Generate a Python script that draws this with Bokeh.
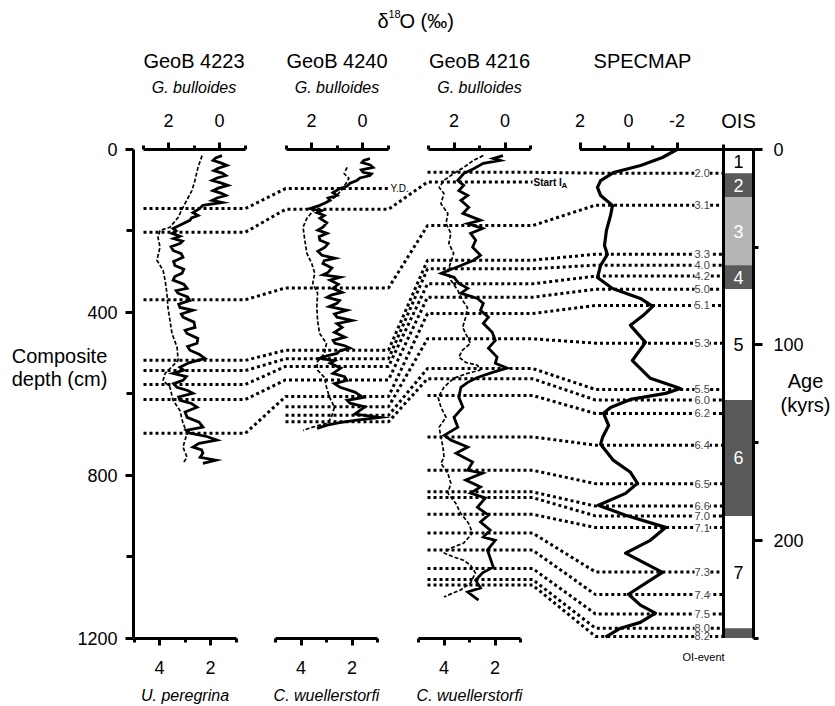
from bokeh.plotting import figure
from bokeh.models import (Range1d, LinearAxis, FixedTicker, ColumnDataSource, LabelSet,
                          PrintfTickFormatter)
from bokeh.core.properties import value
from bokeh.embed import file_html
from bokeh.resources import INLINE

# ---------------------------------------------------------------- data
# GeoB 4223: planktic (G. bulloides) and benthic (U. peregrina) d18O vs composite depth (cm)
gb4223_plank_depth = [15, 21, 27, 33, 39, 46, 52, 58, 64, 70, 76, 82, 88, 95, 101, 107, 113, 119, 125, 130,
                      137, 146, 155, 162, 168, 174, 184, 194, 200, 206, 213, 219, 225, 231, 239, 248, 256,
                      265, 275, 285, 294, 304, 312, 321, 331, 341, 347, 353, 362, 371, 380, 388, 395, 404,
                      412, 424, 437, 444, 452, 464, 476, 484, 493, 503, 513, 524, 535, 542, 550, 558, 567,
                      575, 584, 592, 599, 608, 616, 624, 633, 645, 658, 670, 682, 690, 697, 705, 714, 722,
                      731, 738, 746, 756, 763, 771]
gb4223_plank_d18o = [-0.10, 0.15, 0.25, -0.05, -0.29, 0.05, 0.22, -0.10, -0.25, 0.10, 0.29, -0.05, -0.33,
                     0.05, 0.25, -0.05, -0.25, 0.10, 0.29, -0.10, 0.65, 0.80, 1.04, 0.84, 1.10, 1.16, 1.50,
                     1.82, 1.70, 1.86, 1.55, 1.80, 1.45, 1.55, 1.90, 1.82, 1.50, 1.43, 1.80, 1.75, 1.40,
                     1.47, 1.75, 1.82, 1.40, 1.27, 1.70, 1.63, 1.25, 1.16, 1.60, 1.55, 1.04, 1.50, 1.43,
                     1.00, 0.96, 1.35, 1.27, 0.85, 0.88, 1.25, 1.16, 0.80, 0.57, 1.20, 1.55, 1.40, 1.82,
                     1.30, 1.43, 1.80, 1.67, 1.25, 1.04, 1.60, 1.55, 1.10, 0.88, 1.35, 1.27, 0.80, 0.65,
                     1.30, 1.16, 0.50, 0.10, 0.80, 1.04, 0.70, 0.65, 0.76, 0.14, 0.65]
gb4223_benth_depth = [15, 44, 76, 101, 142, 167, 191, 199, 216, 240, 272, 297, 321, 353, 388, 420, 452,
                      486, 518, 550, 567, 584, 616, 641, 672, 697, 731, 756, 771]
gb4223_benth_d18o = [2.33, 2.49, 2.61, 2.73, 3.08, 3.27, 3.59, 3.98, 4.06, 3.98, 4.10, 3.86, 3.78, 3.71,
                     3.67, 3.59, 3.51, 3.31, 3.27, 3.78, 3.86, 3.59, 3.47, 3.20, 3.08, 2.92, 3.08, 2.92, 3.08]

# GeoB 4240: planktic (G. bulloides) and benthic (C. wuellerstorfi)
gb4240_plank_depth = [22, 27, 32, 38, 44, 50, 56, 60, 64, 70, 76, 83, 90, 96, 106, 113, 119, 125, 131, 137,
                      145, 150, 155, 162, 169, 180, 191, 198, 206, 214, 223, 231, 240, 250, 260, 267, 273,
                      280, 291, 302, 308, 314, 321, 331, 341, 351, 357, 363, 371, 378, 386, 395, 404, 412,
                      420, 428, 437, 449, 461, 469, 476, 482, 488, 495, 501, 507, 513, 519, 525, 537, 550,
                      558, 567, 575, 584, 596, 609, 616, 623, 632, 641, 650, 658, 665, 671, 677, 685]
gb4240_plank_d18o = [-0.29, -0.05, 0.02, -0.30, -0.41, 0.05, -0.02, -0.35, -0.29, 0.10, 0.22, 0.49, 0.60,
                     0.88, 1.16, 1.00, 1.35, 1.27, 1.45, 1.67, 2.06, 1.60, 1.78, 1.50, 1.67, 1.40, 1.55,
                     1.75, 1.39, 1.70, 1.67, 1.35, 1.47, 1.75, 1.59, 1.08, 1.50, 1.55, 1.20, 1.35, 1.55,
                     0.88, 1.27, 0.95, 1.16, 0.80, 1.20, 1.39, 0.90, 1.00, 1.30, 0.61, 1.10, 1.00, 0.41,
                     1.00, 0.80, 1.10, 0.69, 1.15, 1.08, 0.70, 0.49, 0.90, 1.00, 1.40, 1.67, 1.10, 1.27,
                     0.85, 1.16, 0.70, 0.61, 1.10, 0.88, 0.30, -0.02, 0.60, 0.49, -0.10, 0.10, 0.30, -0.69,
                     0.22, 0.90, 1.39, 1.78]
gb4240_benth_depth = [44, 59, 71, 83, 101, 118, 130, 142, 155, 169, 191, 223, 255, 280, 304, 329, 353,
                      388, 420, 452, 476, 501, 523, 542, 560, 584, 609, 633, 658, 672, 682, 690]
gb4240_benth_d18o = [2.19, 2.31, 2.12, 2.23, 2.42, 2.69, 3.00, 3.38, 3.58, 3.77, 3.92, 3.85, 3.77, 3.58,
                     3.46, 3.54, 3.35, 3.38, 3.35, 3.27, 3.00, 3.08, 3.38, 3.35, 3.08, 3.00, 2.88, 2.69,
                     2.81, 2.96, 3.54, 3.92]

# GeoB 4216: planktic (G. bulloides) and benthic (C. wuellerstorfi)
gb4216_plank_depth = [15, 22, 27, 34, 47, 59, 76, 88, 101, 113, 125, 142, 157, 174, 182, 194, 206, 223,
                      240, 260, 272, 285, 304, 314, 329, 341, 353, 366, 378, 395, 412, 427, 449, 469, 488,
                      510, 525, 537, 547, 560, 572, 584, 609, 633, 658, 682, 702, 714, 731, 746, 768, 788,
                      795, 812, 829, 844, 856, 879, 898, 915, 935, 952, 960, 984, 1026, 1040, 1058, 1077,
                      1087, 1107]
gb4216_plank_d18o = [0.08, 0.46, 0.19, 0.85, 1.23, 1.62, 1.85, 1.62, 1.81, 1.46, 1.73, 1.42, 1.65, 0.96,
                     1.46, 0.88, 1.35, 1.15, 1.27, 0.96, 1.23, 1.73, 2.50, 2.00, 1.81, 1.46, 1.73, 1.08,
                     0.85, 0.96, 0.65, 0.85, 0.50, 0.38, 0.65, 0.31, 0.38, -0.08, 0.46, 1.08, 1.46, 1.73,
                     1.81, 1.65, 2.00, 1.85, 2.38, 2.12, 1.46, 1.92, 1.27, 1.46, 0.88, 1.54, 0.96, 1.35,
                     0.77, 1.08, 0.65, 0.96, 0.58, 0.85, 0.38, 0.69, 0.46, 0.88, 1.15, 0.96, 1.46, 1.04]
gb4216_benth_depth = [15, 27, 44, 59, 76, 93, 108, 133, 157, 182, 206, 231, 255, 277, 297, 321, 346, 371,
                      388, 412, 437, 461, 476, 493, 510, 523, 530, 542, 550, 562, 584, 609, 633, 658, 682,
                      707, 731, 756, 771, 795, 820, 844, 869, 893, 918, 942, 967, 979, 991, 1001, 1009,
                      1021, 1040, 1065, 1082, 1099]
gb4216_benth_d18o = [2.46, 2.85, 3.23, 3.62, 4.00, 4.19, 4.00, 4.12, 3.85, 3.92, 3.73, 3.81, 3.62, 3.73,
                     3.85, 3.73, 3.46, 3.27, 3.08, 3.15, 3.27, 3.08, 2.96, 3.27, 3.42, 3.15, 2.69, 2.58,
                     3.08, 3.62, 4.00, 4.23, 4.12, 3.92, 4.19, 4.12, 4.04, 4.00, 4.12, 3.85, 3.73, 3.85,
                     3.54, 3.35, 3.04, 2.88, 3.23, 3.73, 4.00, 3.62, 3.23, 2.96, 2.77, 2.96, 3.35, 4.00]

# SPECMAP stack (normalised d18O) vs age (kyr)
specmap_age = [0, 4.1, 8.2, 11.8, 15.9, 19.4, 23.5, 28.6, 33.8, 41.4, 49.1, 53.7, 59.3, 65.5, 71.1, 76.2,
               80.3, 85.0, 90.0, 98.7, 108.0, 117.1, 122.3, 124.8, 127.9, 132.0, 135.0, 141.2, 147.3,
               150.9, 159.1, 165.2, 170.8, 176.0, 182.1, 187.2, 193.4, 200.0, 206.6, 216.4, 227.6,
               233.2, 237.3, 242.0, 245.0, 249.6]
specmap_d18o = [-2.00, -1.40, -0.50, 0.62, 1.15, 1.28, 1.15, 0.66, 0.74, 0.91, 0.99, 0.87, 1.15, 1.28,
                0.66, -0.49, -1.00, -0.60, -0.08, -0.70, -0.16, -0.90, -2.14, -1.53, -0.08, 0.74, 1.03,
                0.82, 1.07, 1.15, 0.62, -0.08, -0.37, 0.12, 1.24, 0.12, -1.53, -0.90, 0.12, -1.40, 0.00,
                -0.49, -1.11, -0.49, 0.33, 0.95]

# Oxygen isotope stages
ois_stage = [1, 2, 3, 4, 5, 6, 7, 8]
ois_start_age = [0.0, 12.1, 24.3, 59.2, 71.5, 128.2, 187.5, 245.0]
ois_end_age = [12.1, 24.3, 59.2, 71.5, 128.2, 187.5, 245.0, 250.0]

# Oxygen isotope events and their ages (kyr)
oi_event = ["2.0", "3.1", "3.3", "4.0", "4.2", "5.0", "5.1", "5.3", "5.5", "6.0", "6.2", "6.4", "6.5",
            "6.6", "7.0", "7.1", "7.3", "7.4", "7.5", "8.0", "8.2"]
oi_event_age = [12.1, 28.5, 53.6, 59.2, 64.8, 71.5, 79.8, 99.1, 122.8, 128.2, 135.1, 151.3, 171.0,
                182.5, 187.5, 193.5, 216.2, 227.8, 237.7, 245.0, 249.2]

# Correlation tie points (composite depth, cm) in each core
gb4223_tie_event = ["Y.D.", "IA", "3.1", "3.3", "4.0", "4.2", "5.0", "5.1"]
gb4223_tie_depth = [145, 203, 369, 518, 543, 577, 614, 697]
gb4240_tie_event = ["Y.D.", "IA", "3.1", "3.3", "4.0", "4.2", "5.0", "5.1", "5.3", "5.5", "6.0"]
gb4240_tie_depth = [96, 147, 340, 493, 514, 533, 566, 607, 632, 653, 669]
gb4216_tie_event = ["IA"] + oi_event
gb4216_tie_depth = [80, 56, 187, 272, 293, 330, 363, 403, 465, 538, 563, 604, 706, 788, 841, 855, 896,
                    942, 984, 1029, 1056, 1070]

depth_ticks, depth_minor = [0, 400, 800, 1200], [200, 600, 1000]
age_ticks, age_minor = [0, 100, 200], [50, 150, 250]
plank_ticks, plank_minor = [0, 2], [-1, 1, 3]
benth_ticks, benth_minor = [2, 4], [1, 3, 5]
spec_ticks, spec_minor = [-2, 0, 2], [-1, 1]

# ---------------------------------------------------------------- layout
W, H = 835, 706
FONT = "Liberation Sans"
Y0, Y1 = 149.0, 637.5          # screen rows of depth 0 / 1200 cm (= age 0 / 250 kyr)
DEPTH_MAX, AGE_MAX = 1200.0, 250.0
PPU = 25.5                      # pixels per permil in the core panels


def y_span(vmax):
    k = (Y1 - Y0) / vmax
    return Range1d(start=(H - Y0) / k, end=-Y0 / k)


def x_span(cpx, cval, ppu):
    return Range1d(start=cval + cpx / ppu, end=cval - (W - cpx) / ppu)


panels = [
    dict(name="GeoB 4223", top_c=193.5, bot_c=184.5, ties=(143, 245), benthic="U. peregrina",
         plank=(gb4223_plank_d18o, gb4223_plank_depth), benth=(gb4223_benth_d18o, gb4223_benth_depth),
         tie_event=gb4223_tie_event, tie_depth=gb4223_tie_depth),
    dict(name="GeoB 4240", top_c=336.5, bot_c=326.0, ties=(285, 388), benthic="C. wuellerstorfi",
         plank=(gb4240_plank_d18o, gb4240_plank_depth), benth=(gb4240_benth_d18o, gb4240_benth_depth),
         tie_event=gb4240_tie_event, tie_depth=gb4240_tie_depth),
    dict(name="GeoB 4216", top_c=479.0, bot_c=469.0, ties=(427, 532), benthic="C. wuellerstorfi",
         plank=(gb4216_plank_d18o, gb4216_plank_depth), benth=(gb4216_benth_d18o, gb4216_benth_depth),
         tie_event=gb4216_tie_event, tie_depth=gb4216_tie_depth),
]
SPEC_C, SPEC_PPU = 628.0, 24.25
SPEC_TIES = (595, 723)
OIS_X0, OIS_X1 = 723, 753
LEFT_X = 133

p = figure(width=W, height=H, output_backend="svg", toolbar_location=None,
           x_range=Range1d(0, W), y_range=y_span(DEPTH_MAX),
           x_axis_location=None, y_axis_location=None, min_border=0)
p.title.visible = False
p.outline_line_color = None
p.xgrid.visible = False
p.ygrid.visible = False
p.background_fill_color = "white"
p.border_fill_color = "white"

p.extra_y_ranges = {"age": y_span(AGE_MAX), "px": Range1d(start=H, end=0)}
xr = {"spec": x_span(SPEC_C, 0.0, SPEC_PPU)}
for i, pn in enumerate(panels):
    xr[f"top{i}"] = x_span(pn["top_c"], 1.0, PPU)
    xr[f"bot{i}"] = x_span(pn["bot_c"], 3.0, PPU)
p.extra_x_ranges = xr


def add_axis(side, ticks, minor, bounds, loc, x_name="default", y_name="default",
             tick_out=7, minor_out=4, standoff=8):
    ax = LinearAxis(x_range_name=x_name, y_range_name=y_name, fixed_location=loc, bounds=bounds,
                    ticker=FixedTicker(ticks=ticks, minor_ticks=minor),
                    formatter=PrintfTickFormatter(format="%d"))
    ax.axis_line_width = 3
    ax.axis_line_color = "black"
    ax.major_tick_line_width = 3
    ax.minor_tick_line_width = 3
    ax.major_tick_line_color = "black"
    ax.minor_tick_line_color = "black"
    ax.major_tick_in = 0
    ax.minor_tick_in = 0
    ax.major_tick_out = tick_out
    ax.minor_tick_out = minor_out
    ax.major_label_standoff = standoff
    ax.major_label_text_font = FONT
    ax.major_label_text_font_size = "18px"
    ax.major_label_text_color = "black"
    p.add_layout(ax, side)
    return ax


# ---------------------------------------------------------------- correlation lines
spec_tie_depth = [a * DEPTH_MAX / AGE_MAX for a in oi_event_age]
tie_xs, tie_ys = [], []
for name in ["Y.D.", "IA"] + oi_event:
    xs, ys = [], []
    for pn in panels:
        if name in pn["tie_event"]:
            d = pn["tie_depth"][pn["tie_event"].index(name)]
            xs += list(pn["ties"])
            ys += [d, d]
    if name in oi_event:
        d = spec_tie_depth[oi_event.index(name)]
        xs += list(SPEC_TIES)
        ys += [d, d]
    tie_xs.append(xs)
    tie_ys.append(ys)
p.multi_line(tie_xs, tie_ys, line_color="black", line_width=3, line_dash="3 3")

# ---------------------------------------------------------------- OIS column
ois_fill = ["white", "#595959", "#b5b5b5", "#595959", "white", "#595959", "white", "#595959"]
ois_text = ["black", "white", "white", "white", "black", "white", "black", None]
ois_src = ColumnDataSource(dict(top=ois_start_age, bottom=ois_end_age, fill=ois_fill))
p.quad(left=OIS_X0, right=OIS_X1, top="top", bottom="bottom", fill_color="fill", line_color=None,
       source=ois_src, y_range_name="age")
lab_stage = [str(s) for s, c in zip(ois_stage, ois_text) if c]
lab_mid = [(a + b) / 2 for a, b, c in zip(ois_start_age, ois_end_age, ois_text) if c]
lab_col = [c for c in ois_text if c]
p.text(x=[(OIS_X0 + OIS_X1) / 2] * len(lab_stage), y=lab_mid, text=lab_stage, text_color=lab_col,
       y_range_name="age", text_font=value(FONT), text_font_size="18px",
       text_align="center", text_baseline="middle")
p.segment(x0=[OIS_X0], y0=[Y0 - 5], x1=[OIS_X0], y1=[Y1], y_range_name="px",
          line_color="black", line_width=3)
p.segment(x0=[SPEC_C - 2 * SPEC_PPU], y0=[0], x1=[OIS_X1], y1=[0], line_color="black", line_width=3)

# ---------------------------------------------------------------- curves
for i, pn in enumerate(panels):
    p.line(x=pn["benth"][0], y=pn["benth"][1], x_range_name=f"bot{i}", line_color="black",
           line_width=1.7, line_dash="4 2")
    p.line(x=pn["plank"][0], y=pn["plank"][1], x_range_name=f"top{i}", line_color="black",
           line_width=2.8, line_join="miter")
p.line(x=specmap_d18o, y=specmap_age, x_range_name="spec", y_range_name="age",
       line_color="black", line_width=3.2, line_join="round")

# ---------------------------------------------------------------- axes
add_axis("left", depth_ticks, depth_minor, (0, DEPTH_MAX), LEFT_X, tick_out=8, minor_out=7, standoff=8)
add_axis("right", age_ticks, age_minor, (0, AGE_MAX), OIS_X1, y_name="age", tick_out=9, minor_out=5,
         standoff=11)
for i, pn in enumerate(panels):
    add_axis("above", plank_ticks, plank_minor, (-1, 3), 0, x_name=f"top{i}", standoff=16)
    add_axis("below", benth_ticks, benth_minor, (1, 5), DEPTH_MAX, x_name=f"bot{i}", standoff=16)
add_axis("above", spec_ticks, spec_minor, (-2, 2), 0, x_name="spec", standoff=16)

# ---------------------------------------------------------------- labels


def txt(x, y, s, size, align="center", style="normal", color="black", y_name="px"):
    p.text(x=[x], y=[y], text=[s], y_range_name=y_name, text_font=value(FONT), text_font_size=size,
           text_font_style=style, text_align=align, text_baseline="middle", text_color=color)


txt(377, 20, "δ", "20px", align="left")
txt(388, 13, "18", "11px", align="left")
txt(399, 20, "O (‰)", "20px", align="left")
for pn in panels:
    txt(pn["top_c"], 60, pn["name"], "20px")
    txt(pn["top_c"], 87, "G. bulloides", "16px", style="italic")
    txt(pn["bot_c"], 695, pn["benthic"], "16px", style="italic")
txt(642, 60, "SPECMAP", "20px")
txt((OIS_X0 + OIS_X1) / 2, 120, "OIS", "20px")
txt(59, 355, "Composite", "20px")
txt(59, 378, "depth (cm)", "20px")
txt(805, 380, "Age", "20px")
txt(805, 404, "(kyrs)", "20px")
txt(703, 656, "OI-event", "11px")

# tie-line end labels
txt(390, gb4240_tie_depth[0], "Y.D.", "10px", align="left", y_name="default")
txt(533, gb4216_tie_depth[0], "Start I", "10px", align="left", style="bold", y_name="default")
p.text(x=[561], y=[gb4216_tie_depth[0]], text=["A"], y_offset=3, text_font=value(FONT),
       text_font_size="8px", text_font_style="bold", text_align="left", text_baseline="middle")

ev_src = ColumnDataSource(dict(x=[694] * len(oi_event), y=oi_event_age, text=oi_event))
p.add_layout(LabelSet(x="x", y="y", text="text", source=ev_src, y_range_name="age",
                      text_font=value(FONT), text_font_size="11px", text_align="left",
                      text_baseline="middle", background_fill_color="white"))

open("out.html", "w").write(file_html(p, INLINE))
